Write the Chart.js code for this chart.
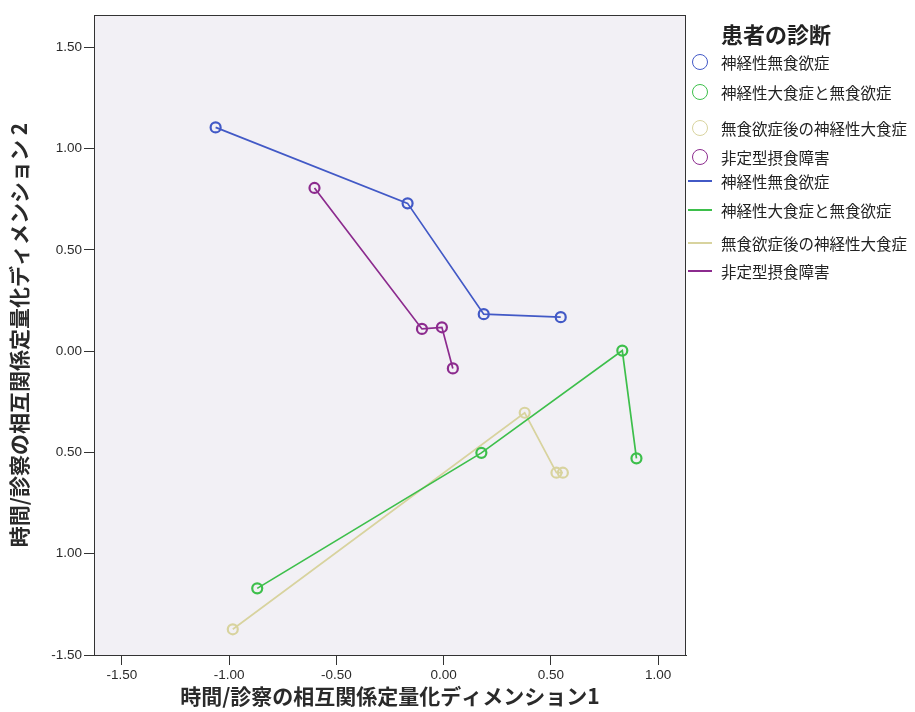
<!DOCTYPE html>
<html>
<head>
<meta charset="utf-8">
<script src="https://cdn.jsdelivr.net/npm/chart.js@4"></script>
<style>
  body { margin: 0; background: #fff; }
  #wrap { position: relative; width: 915px; height: 712px; }
  #legend { position: absolute; left: 0; top: 0; font-family: "Noto Sans CJK JP", sans-serif; color: #222; }
  .lg-title { position: absolute; left: 721px; top: 17px; font-size: 22px; font-weight: bold; white-space: nowrap; }
  .lg-item { position: absolute; left: 721px; font-size: 15.5px; white-space: nowrap; line-height: 20px; }
  .lg-circle { position: absolute; width: 14px; height: 14px; border-radius: 50%; border: 1.5px solid; }
  .lg-line { position: absolute; width: 24px; height: 0; border-top: 2px solid; }
</style>
</head>
<body>
<div id="wrap">
  <canvas id="myChart" width="915" height="712"></canvas>
  <div id="legend"></div>
</div>
<script>
// series names and colours
const seriesNames = ['神経性無食欲症', '神経性大食症と無食欲症', '無食欲症後の神経性大食症', '非定型摂食障害'];
const seriesColors = ['#4259c6', '#3dbf4b', '#d8d39e', '#8c2b8e'];

// values
const anorexiaX = [-1.063, -0.168, 0.187, 0.546];
const anorexiaY = [1.105, 0.730, 0.183, 0.168];
const bulimiaX = [-0.869, 0.176, 0.833, 0.899];
const bulimiaY = [-1.171, -0.502, 0.003, -0.529];
const postAnorexiaX = [-0.983, 0.378, 0.526, 0.556];
const postAnorexiaY = [-1.373, -0.304, -0.600, -0.600];
const atypicalX = [-0.602, -0.101, -0.008, 0.043];
const atypicalY = [0.806, 0.110, 0.118, -0.085];

// ticks
const xTickValues = [-1.5, -1.0, -0.5, 0, 0.5, 1.0];
const xTickLabels = ['-1.50', '-1.00', '-0.50', '0.00', '0.50', '1.00'];
const yTickValues = [-1.5, -1.0, -0.5, 0, 0.5, 1.0, 1.5];
const yTickLabels = ['-1.50', '1.00', '0.50', '0.00', '0.50', '1.00', '1.50'];

const xTitle = '時間/診察の相互関係定量化ディメンション1';
const yTitle = '時間/診察の相互関係定量化ディメンション 2';
const legendTitle = '患者の診断';

function pts(xs, ys) {
    return xs.map((x, i) => ({ x: x, y: ys[i] }));
}

const allX = [anorexiaX, bulimiaX, postAnorexiaX, atypicalX];
const allY = [anorexiaY, bulimiaY, postAnorexiaY, atypicalY];

const datasets = seriesNames.map((name, i) => ({
    label: name,
    data: pts(allX[i], allY[i]),
    showLine: true,
    borderColor: seriesColors[i],
    backgroundColor: 'transparent',
    borderWidth: 1.7,
    pointRadius: 5,
    pointBorderWidth: 2.2,
    pointBorderColor: seriesColors[i],
    pointBackgroundColor: 'transparent'
}));

// plot background and frame
const plotFrame = {
    id: 'plotFrame',
    beforeDraw(chart) {
        const a = chart.chartArea, ctx = chart.ctx;
        ctx.save();
        ctx.fillStyle = '#f2f0f5';
        ctx.fillRect(a.left, a.top, a.right - a.left, a.bottom - a.top);
        ctx.restore();
    },
    afterDraw(chart) {
        const a = chart.chartArea, ctx = chart.ctx;
        ctx.save();
        ctx.strokeStyle = '#333';
        ctx.lineWidth = 1;
        ctx.strokeRect(a.left + 0.5, a.top + 0.5, a.right - a.left - 1, a.bottom - a.top);
        ctx.restore();
    }
};

const tickFont = { family: 'Liberation Sans, Arial, sans-serif', size: 13.5 };
const titleFont = { family: 'Noto Sans CJK JP, sans-serif', size: 21, weight: 'bold' };

new Chart(document.getElementById('myChart'), {
    type: 'scatter',
    data: { datasets: datasets },
    plugins: [plotFrame],
    options: {
        responsive: false,
        animation: false,
        layout: { padding: { top: 15, right: 229, left: 0, bottom: 0 } },
        plugins: { legend: { display: false }, tooltip: { enabled: false } },
        scales: {
            x: {
                type: 'linear',
                min: -1.63,
                max: 1.13,
                afterBuildTicks: s => { s.ticks = xTickValues.map(v => ({ value: v })); },
                afterFit: s => { s.height = 57; },
                ticks: { callback: (v, i) => xTickLabels[i], font: tickFont, color: '#2a2a2a', padding: 2, maxRotation: 0 },
                grid: { drawOnChartArea: false, drawTicks: true, tickLength: 10, color: '#333' },
                border: { display: true, color: '#333' },
                title: { display: true, text: xTitle, font: titleFont, color: '#2a2a2a', padding: { top: 0, bottom: 3 } }
            },
            y: {
                type: 'linear',
                min: -1.5,
                max: 1.66,
                afterBuildTicks: s => { s.ticks = yTickValues.map(v => ({ value: v })); },
                afterFit: s => { s.width = 94; },
                ticks: { callback: (v, i) => yTickLabels[i], font: tickFont, color: '#2a2a2a', padding: 2 },
                grid: { drawOnChartArea: false, drawTicks: true, tickLength: 10, color: '#333' },
                border: { display: true, color: '#333' },
                title: { display: true, text: yTitle, font: titleFont, color: '#2a2a2a', padding: { top: 6, bottom: 0 } }
            }
        }
    }
});

// legend
const legendRows = [62, 92, 128, 157, 181, 210, 243, 271];
const lg = document.getElementById('legend');
let html = '<div class="lg-title">' + legendTitle + '</div>';
seriesNames.forEach((name, i) => {
    const yc = legendRows[i];
    html += '<div class="lg-circle" style="left:692px;top:' + (yc - 8.5) + 'px;border-color:' + seriesColors[i] + '"></div>';
    html += '<div class="lg-item" style="top:' + (yc - 10) + 'px">' + name + '</div>';
});
seriesNames.forEach((name, i) => {
    const yc = legendRows[i + 4];
    html += '<div class="lg-line" style="left:688px;top:' + (yc - 1) + 'px;border-color:' + seriesColors[i] + '"></div>';
    html += '<div class="lg-item" style="top:' + (yc - 10) + 'px">' + name + '</div>';
});
lg.innerHTML = html;
</script>
</body>
</html>
